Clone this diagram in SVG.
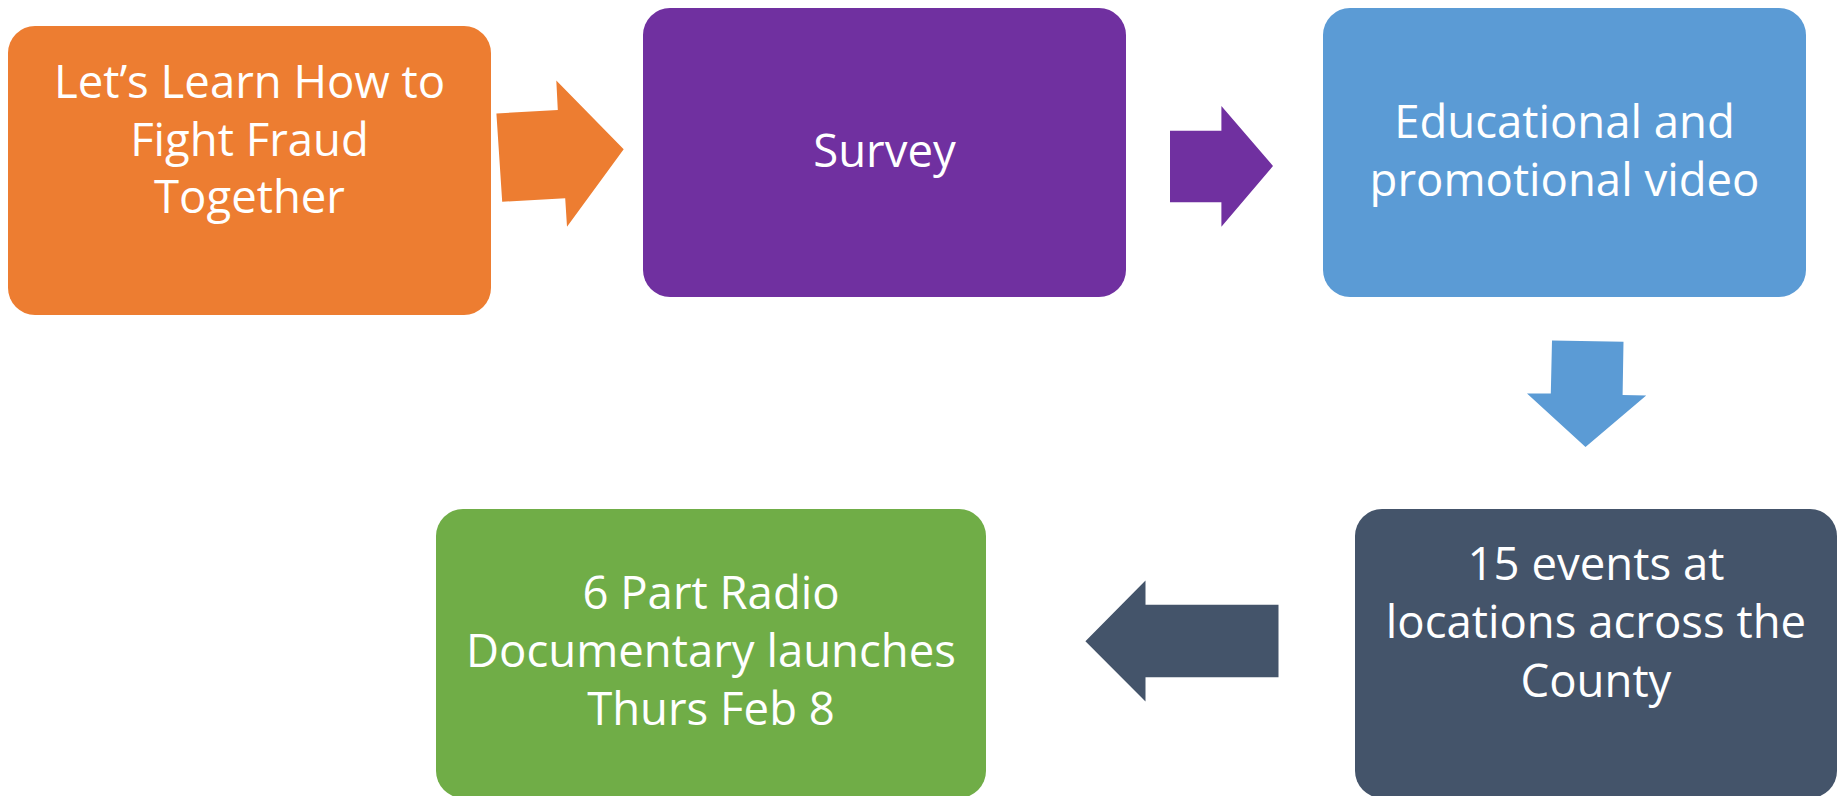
<svg xmlns="http://www.w3.org/2000/svg" width="1843" height="796" viewBox="0 0 1843 796">
<style>
.lbl{font-family:"Open Sans","Noto Sans","Liberation Sans",sans-serif;font-size:45.5px;fill:#ffffff;text-anchor:middle}
</style>
<rect width="1843" height="796" fill="#ffffff"/>
<g id="connectors">
<polygon fill="#ED7D31" points="496.4,113.5 557.8,110 556.3,80.5 623.7,149.3 567,226.7 565.2,198.3 502.2,201.8"/>
<polygon fill="#7030A0" points="1170,130.7 1221.4,130.7 1221.4,106 1273,166 1221.4,226.7 1221.4,202.3 1170,202.3"/>
<polygon fill="#5B9BD5" points="1552,340.5 1623.5,341.7 1622.6,395 1646.2,395.5 1585.5,447 1527,393.5 1550.8,393.5"/>
<polygon fill="#44546A" points="1085.4,641.3 1145.5,580.5 1145.5,604.7 1278.5,604.7 1278.5,677.3 1145.5,677.3 1145.5,701.5"/>
</g>
<g id="node-fight-fraud">
<rect x="8" y="26" width="483" height="289" rx="27" fill="#ED7D31"/>
<text class="lbl" x="249.5"><tspan x="249.5" y="98">Let’s Learn How to</tspan><tspan x="249.5" y="155.5">Fight Fraud</tspan><tspan x="249.5" y="213">Together</tspan></text>
</g>
<g id="node-survey">
<rect x="643" y="8" width="483" height="289" rx="27" fill="#7030A0"/>
<text class="lbl" x="884.5" y="166.7">Survey</text>
</g>
<g id="node-video">
<rect x="1323" y="8" width="483" height="289" rx="27" fill="#5B9BD5"/>
<text class="lbl"><tspan x="1564.5" y="138.3">Educational and</tspan><tspan x="1564.5" y="195.7">promotional video</tspan></text>
</g>
<g id="node-events">
<rect x="1355" y="509" width="482" height="289" rx="27" fill="#44546A"/>
<text class="lbl"><tspan x="1596" y="580">15 events at</tspan><tspan x="1596" y="638.3">locations across the</tspan><tspan x="1596" y="696.5">County</tspan></text>
</g>
<g id="node-radio">
<rect x="436" y="509" width="550" height="289" rx="27" fill="#70AD47"/>
<text class="lbl"><tspan x="711" y="609.3">6 Part Radio</tspan><tspan x="711" y="666.8">Documentary launches</tspan><tspan x="711" y="724.5">Thurs Feb 8</tspan></text>
</g>
</svg>
